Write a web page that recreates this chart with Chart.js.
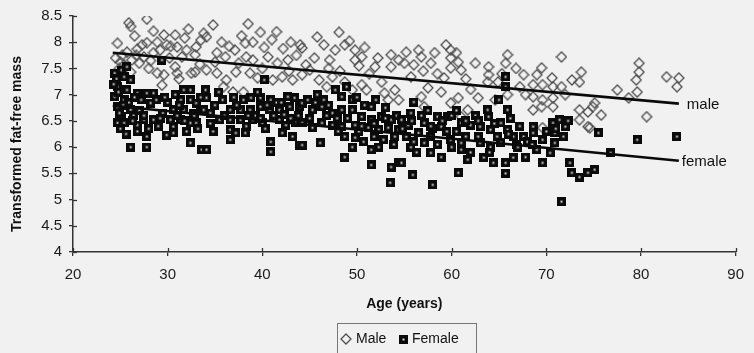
<!DOCTYPE html>
<html>
<head>
<meta charset="utf-8">
<script src="https://cdn.jsdelivr.net/npm/chart.js@4.4.1/dist/chart.umd.min.js"></script>
<style>
html,body{margin:0;padding:0;background:#f1f1f1;}
#wrap{width:754px;height:353px;position:relative;}
</style>
</head>
<body>
<div id="wrap"><canvas id="c" width="754" height="353"></canvas></div>
<script>
const xTicks = [20, 30, 40, 50, 60, 70, 80, 90];
const yTicks = [4, 4.5, 5, 5.5, 6, 6.5, 7, 7.5, 8, 8.5];
const lineLabels = ['male', 'female'];

const malePoints = [
[24.7,7.98],[25.9,8.37],[26.1,8.30],[27.8,8.44],[26.5,8.12],[28.5,8.21],[25.7,7.81],[26.8,7.87],[27.8,7.99],[28.9,8.0],
[29.6,8.14],[30.8,8.14],[31.8,8.08],[29.9,7.95],[31.0,7.91],[32.0,7.85],[33.0,7.91],[26.2,7.66],[27.0,7.6],[28.9,7.41],
[29.6,7.38],[30.8,7.53],[31.0,7.41],[32.5,7.41],[32.9,7.43],[27.5,7.72],[28.5,7.8],[25.4,7.57],[26.1,7.43],[32.9,7.76],
[33.5,8.04],[24.5,7.7],[25.2,7.75],[25.0,7.62],[24.9,7.5],[26.7,7.75],[27.3,7.95],[28.2,7.65],[29.2,7.85],[30.2,7.7],
[31.5,7.72],[30.3,7.92],[33.4,7.58],[32.2,8.25],[31.2,7.3],[29.4,7.18],[28.0,7.5],
[34.8,8.33],[38.5,8.35],[39.8,8.19],[34.1,8.1],[35.7,8.0],[37.1,7.85],[38.2,7.98],[39.0,8.0],[43.0,8.0],[35.2,7.8],
[36.1,7.72],[38.3,7.72],[39.0,7.66],[40.6,7.72],[41.6,7.6],[42.7,7.66],[34.1,7.47],[35.2,7.41],[37.2,7.43],[38.7,7.41],
[41.1,7.28],[42.1,7.34],[43.2,7.28],[36.2,7.28],[35.9,7.15],[36.9,7.05],[38.0,7.05],[33.8,8.17],
[36.5,7.92],[37.8,8.12],[40.2,7.9],[41.0,8.05],[42.2,7.88],[43.6,7.75],[40.0,7.5],[39.5,7.32],[37.5,7.6],[35.0,7.62],
[44.0,7.95],[41.5,8.2],[42.8,7.45],
[48.1,8.19],[48.7,7.95],[47.7,7.85],[49.8,7.85],[44.2,7.89],[47.1,7.66],[49.8,7.66],[50.5,7.72],[51.9,7.53],[44.6,7.57],
[53.6,7.76],[53.6,7.53],[54.4,7.66],[46.0,7.28],[47.4,7.34],[48.7,7.24],[49.5,7.09],[50.5,7.19],[51.0,7.09],[52.6,7.24],
[52.9,7.03],[53.3,6.9],[54.0,7.09],[54.4,6.9],[44.2,7.38],[45.0,7.47],
[45.5,7.7],[46.5,7.95],[49.2,8.02],[50.2,7.55],[51.3,7.4],[47.0,7.5],[48.2,7.45],[45.8,8.1],[46.8,7.15],[52.2,7.7],[50.8,7.9],
[59.4,7.95],[59.9,7.85],[55.2,7.81],[56.8,7.72],[56.0,7.57],[57.8,7.6],[59.9,7.7],[60.7,7.62],[59.9,7.51],[61.0,7.47],
[63.9,7.53],[63.9,7.38],[63.8,7.24],[64.9,7.24],[59.2,7.32],[55.7,7.34],[57.5,7.13],[58.9,7.05],[60.7,6.94],[62.8,6.94],
[59.9,6.84],[61.7,6.71],[64.6,6.9],[56.8,6.96],[57.1,6.77],[61.0,6.58],
[55.0,7.6],[56.5,7.85],[58.2,7.8],[60.5,7.8],[61.5,7.3],[62.5,7.6],[58.5,7.4],[62.0,7.1],[57.0,7.45],
[65.9,7.76],[65.7,7.6],[67.6,7.38],[69.0,7.38],[69.5,7.51],[70.6,7.32],[71.6,7.72],[72.7,7.28],[73.7,7.43],[73.5,7.24],
[68.6,7.19],[69.6,7.19],[70.7,7.15],[71.6,7.15],[68.6,6.96],[69.6,6.9],[70.7,6.94],[68.6,6.71],[69.5,6.77],[70.7,6.77],
[65.9,7.0],[67.2,7.15],[73.5,6.71],[73.5,6.52],[74.4,6.67],[74.9,6.77],[74.6,6.37],[69.6,6.37],[65.3,7.4],[66.8,7.5],
[67.8,7.0],[72.0,7.0],[75.1,6.84],[75.8,6.61],[74.4,6.39],
[79.8,7.6],[79.8,7.43],[79.5,7.28],[79.6,7.05],[77.5,7.09],[82.7,7.34],[84.0,7.32],[83.8,7.15],[80.6,6.58],[78.7,6.94]
];

const femalePoints = [
[24.4,7.41],[25.1,7.47],[25.7,7.53],[25.4,7.34],[26.1,7.28],[24.7,7.15],[25.7,7.09],[24.4,6.96],[25.4,6.9],[26.8,7.03],
[27.8,7.03],[28.5,7.03],[27.2,6.9],[28.2,6.84],[24.7,6.77],[26.1,6.71],[25.1,6.58],[24.7,6.46],[25.4,6.46],[26.8,6.42],
[27.5,6.52],[28.5,6.52],[27.8,6.2],[27.8,6.0],[26.1,6.0],[31.7,7.09],[32.4,7.09],[31.4,6.9],[32.4,6.9],[33.0,6.84],
[30.6,6.71],[31.7,6.71],[32.7,6.65],[33.5,6.71],[30.3,6.52],[31.4,6.52],[32.4,6.46],[33.0,6.46],[30.6,6.39],[29.9,6.23],
[30.6,6.27],[32.4,6.08],[33.6,5.95],[29.4,7.66],
[24.6,7.3],[25.9,6.85],[26.4,6.6],[24.9,6.65],[25.6,6.25],[26.3,6.5],[29.0,6.4],[29.5,6.65],[30.0,6.85],[31.0,6.6],
[32.0,6.3],[28.0,6.35],[27.0,6.7],[33.5,6.95],
[24.3,7.2],[24.8,7.05],[25.3,6.8],[26.5,6.95],[27.5,6.6],[28.8,6.9],[29.7,6.95],[30.8,7.0],[31.2,6.8],[32.8,6.6],
[33.2,6.35],[31.8,6.5],[29.2,6.55],[26.8,6.3],[25.0,6.35],
[34.0,7.09],[34.1,6.94],[35.4,7.05],[40.2,7.28],[38.0,6.9],[38.8,6.94],[39.8,6.94],[40.9,6.9],[42.7,6.96],[43.4,6.94],
[37.7,6.71],[38.7,6.71],[39.8,6.77],[40.8,6.71],[41.8,6.71],[42.9,6.77],[43.9,6.77],[33.8,6.71],[34.5,6.65],[36.6,6.71],
[35.5,6.52],[36.6,6.52],[37.7,6.52],[39.0,6.52],[40.0,6.46],[41.8,6.52],[42.5,6.42],[43.5,6.46],[36.6,6.33],[37.2,6.27],
[38.2,6.27],[36.6,6.14],[42.1,6.27],[43.2,6.2],[43.9,6.04],[40.9,6.1],[40.9,5.91],[34.1,5.95],
[39.3,6.6],[41.2,6.6],[42.3,6.62],[38.3,6.4],[35.0,6.8],[41.5,6.85],[40.3,6.35],[34.8,6.3],[43.0,6.55],[39.5,7.05],[37.0,6.95],
[34.5,6.45],[35.8,6.9],[36.0,6.6],[37.3,6.8],[38.5,6.6],[39.8,6.55],[40.5,6.8],[42.0,6.85],[43.8,6.6],
[47.7,7.09],[48.4,6.96],[49.5,6.9],[45.8,7.0],[51.5,6.77],[44.2,6.84],[45.3,6.71],[46.3,6.77],[47.4,6.65],[48.4,6.71],
[49.5,6.71],[50.5,6.58],[51.5,6.52],[52.6,6.58],[53.6,6.52],[44.2,6.46],[45.3,6.37],[46.3,6.46],[47.4,6.42],[48.4,6.39],
[49.8,6.42],[51.2,6.37],[52.3,6.33],[53.3,6.37],[54.4,6.33],[48.7,6.2],[49.8,6.18],[51.8,6.2],[52.8,6.14],[54.0,6.2],
[49.5,6.0],[48.7,5.81],[51.5,5.95],[52.3,6.0],[44.2,6.04],[46.1,6.08],[51.5,5.66],[53.6,5.62],[54.4,5.7],[53.5,5.32],
[50.0,6.95],[48.9,7.15],[50.8,6.8],[52.0,6.9],[53.0,6.75],[46.8,6.6],[50.2,6.3],[47.9,6.55],[45.0,6.55],[53.9,6.05],
[50.7,6.1],[49.0,6.55],
[44.8,6.9],[45.6,6.85],[46.5,6.9],[47.0,6.8],[48.0,6.3],[50.5,6.4],[51.8,6.45],[53.0,6.55],[54.2,6.6],[54.8,6.35],
[56.0,6.86],[55.7,6.65],[54.7,6.52],[55.4,6.42],[57.1,6.46],[58.5,6.58],[59.6,6.58],[58.9,6.39],[61.0,6.46],[62.0,6.42],
[56.5,6.27],[57.8,6.2],[59.9,6.14],[61.0,6.08],[55.7,6.0],[57.1,6.08],[57.8,5.89],[58.9,5.81],[54.7,5.7],[55.9,5.47],
[58.0,5.28],[60.7,5.51],[61.7,5.76],[62.8,6.2],[63.8,6.71],[63.9,6.58],[63.0,6.39],[64.1,6.33],[63.0,6.08],[64.1,6.0],
[63.4,5.8],[64.4,5.7],[64.8,6.2],
[56.8,6.6],[58.0,6.35],[59.5,6.3],[60.5,6.3],[61.5,6.2],[55.2,6.2],[60.0,6.6],[62.5,6.6],[57.5,6.7],[61.0,5.95],[56.3,5.9],
[55.8,6.5],[57.8,6.4],[59.0,6.5],[60.5,6.7],[61.5,6.5],[62.8,6.5],[64.5,6.45],[56.0,6.1],[58.5,6.05],[60.0,6.0],
[62.0,5.9],[64.0,5.9],
[65.7,7.34],[65.7,7.15],[65.9,6.71],[65.2,6.46],[65.9,6.33],[66.5,6.2],[67.6,6.2],[65.2,6.08],[66.5,5.8],[67.8,5.81],
[65.7,5.7],[65.7,5.5],[68.6,6.39],[68.6,6.27],[69.6,6.14],[70.7,6.46],[71.4,6.52],[72.0,6.39],[70.9,6.27],[70.9,6.08],
[70.4,5.89],[69.6,5.7],[72.5,5.7],[72.7,5.51],[73.5,5.43],[74.4,5.51],[75.1,5.57],[71.6,4.96],
[66.8,6.05],[67.2,6.4],[68.0,6.1],[66.2,6.55],[71.8,6.2],[69.0,5.95],[65.0,6.9],
[66.0,6.25],[67.0,6.0],[68.5,6.05],[70.0,6.3],[71.0,6.35],[72.3,6.5],
[75.5,6.27],[79.6,6.14],[83.8,6.2],[76.8,5.89]
];

const maleLine = [[24.2,7.80],[84.0,6.83]];
const femaleLine = [[24.2,6.79],[84.0,5.74]];

function toXY(arr){ return arr.map(p => ({x:p[0], y:p[1]})); }

function diamondImg(){
  const c = document.createElement('canvas'); c.width = 12; c.height = 12;
  const g = c.getContext('2d');
  g.strokeStyle = '#4e4e4e'; g.lineWidth = 1.3;
  g.beginPath(); g.moveTo(6,1); g.lineTo(11,6); g.lineTo(6,11); g.lineTo(1,6); g.closePath();
  g.stroke();
  return c;
}
function squareImg(){
  const c = document.createElement('canvas'); c.width = 9; c.height = 9;
  const g = c.getContext('2d');
  g.fillStyle = '#0a0a0a'; g.fillRect(0,0,9,9);
  g.fillStyle = '#dcdcdc'; g.fillRect(3.5,3.5,2,2);
  return c;
}
const maleMarker = diamondImg();
const femaleMarker = squareImg();

const AX = '#333333';
const FONT = '"Liberation Sans", Arial, sans-serif';

const decor = {
  id: 'decor',
  afterDraw(chart){
    const ctx = chart.ctx, xs = chart.scales.x, ys = chart.scales.y, ca = chart.chartArea;
    ctx.save();
    ctx.strokeStyle = AX; ctx.lineWidth = 1.3;
    yTicks.forEach(v => { const py = Math.round(ys.getPixelForValue(v)) + 0.5; ctx.beginPath(); ctx.moveTo(ca.left, py); ctx.lineTo(ca.left + 4, py); ctx.stroke(); });
    xTicks.forEach(v => { const px = Math.round(xs.getPixelForValue(v)) + 0.5; ctx.beginPath(); ctx.moveTo(px, ca.bottom); ctx.lineTo(px, ca.bottom - 4); ctx.stroke(); });
    ctx.fillStyle = '#111'; ctx.font = '15px ' + FONT; ctx.textBaseline = 'middle'; ctx.textAlign = 'left';
    const mEnd = maleLine[maleLine.length-1], fEnd = femaleLine[femaleLine.length-1];
    ctx.fillText(lineLabels[0], xs.getPixelForValue(mEnd[0]) + 8, ys.getPixelForValue(mEnd[1]) + 1);
    ctx.fillText(lineLabels[1], xs.getPixelForValue(fEnd[0]) + 3, ys.getPixelForValue(fEnd[1]) + 1);
    ctx.save();
    ctx.translate(17, 144); ctx.rotate(-Math.PI/2);
    ctx.font = 'bold 14px ' + FONT; ctx.textAlign = 'center'; ctx.textBaseline = 'middle';
    ctx.fillText('Transformed fat-free mass', 0, 0);
    ctx.restore();
    ctx.font = 'bold 14px ' + FONT; ctx.textAlign = 'center'; ctx.textBaseline = 'middle';
    ctx.fillText('Age (years)', (ca.left + ca.right)/2, 304);
    ctx.strokeStyle = '#777'; ctx.lineWidth = 1;
    ctx.strokeRect(337.5, 323.5, 139, 32);
    ctx.drawImage(maleMarker, 340, 333);
    ctx.font = '14px ' + FONT; ctx.textAlign = 'left'; ctx.fillStyle = '#111';
    ctx.fillText('Male', 356, 339);
    ctx.drawImage(femaleMarker, 399, 335);
    ctx.fillText('Female', 412, 339);
    ctx.restore();
  }
};

new Chart(document.getElementById('c'), {
  type: 'scatter',
  data: {
    datasets: [
      { label: 'maleLine', data: toXY(maleLine), showLine: true, borderColor: '#0a0a0a', borderWidth: 2.6, pointRadius: 0, order: 1 },
      { label: 'femaleLine', data: toXY(femaleLine), showLine: true, borderColor: '#0a0a0a', borderWidth: 2.6, pointRadius: 0, order: 1 },
      { label: 'Female', data: toXY(femalePoints), pointStyle: femaleMarker, pointRadius: 4.5, order: 2 },
      { label: 'Male', data: toXY(malePoints), pointStyle: maleMarker, pointRadius: 6, order: 3 }
    ]
  },
  options: {
    responsive: false,
    animation: false,
    events: [],
    layout: { padding: { left: 0, right: 12, top: 16, bottom: 0 } },
    plugins: { legend: { display: false }, tooltip: { enabled: false } },
    scales: {
      x: {
        type: 'linear', min: 20, max: 90,
        afterBuildTicks: s => { s.ticks = xTicks.map(v => ({value: v})); },
        afterFit: s => { s.height = 101; },
        grid: { display: true, drawOnChartArea: false, drawTicks: true, tickLength: 4, color: AX, lineWidth: 1.3 },
        border: { display: true, color: AX, width: 1.5 },
        ticks: { color: '#1a1a1a', font: { family: FONT, size: 15 }, padding: 10, maxRotation: 0, callback: v => String(v) }
      },
      y: {
        type: 'linear', min: 4, max: 8.5,
        afterBuildTicks: s => { s.ticks = yTicks.map(v => ({value: v})); },
        afterFit: s => { s.width = 73; },
        grid: { display: true, drawOnChartArea: false, drawTicks: true, tickLength: 4, color: AX, lineWidth: 1.3 },
        border: { display: true, color: AX, width: 1.5 },
        ticks: { color: '#1a1a1a', font: { family: FONT, size: 15 }, padding: 7, callback: v => String(v) }
      }
    }
  },
  plugins: [decor]
});
</script>
</body>
</html>
